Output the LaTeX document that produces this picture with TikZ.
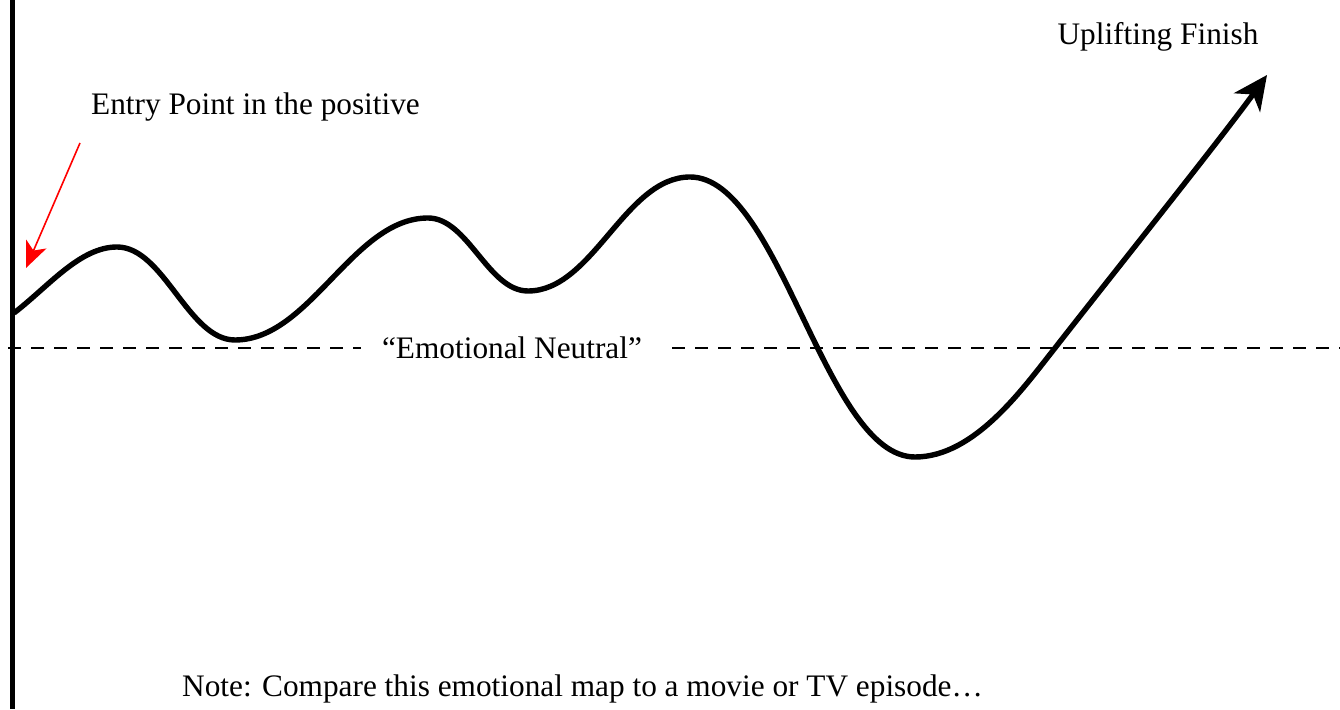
\documentclass[tikz,border=0pt]{standalone}
\usepackage{fontspec}
\setmainfont{Liberation Serif}
\usetikzlibrary{arrows.meta}
\begin{document}
\begin{tikzpicture}[x=1pt,y=1pt,
  lbl/.style={font=\fontsize{31.3}{36}\selectfont, inner sep=0pt},
  curve/.style={line width=5.4pt},
  axis/.style={line width=5pt},
  neutral/.style={line width=1.6pt, dash pattern=on 13pt off 10pt}]
\useasboundingbox (0,0) rectangle (1340,709);
\coordinate (atop) at (12,709);
\coordinate (abot) at (12,0);
\draw[axis] (atop) -- (abot);
\coordinate (nl) at (8,361);
\coordinate (gl) at (361,361);
\coordinate (gr) at (672,361);
\coordinate (nr) at (1340,361);
\draw[neutral] (nl) -- (gl);
\draw[neutral] (gr) -- (nr);
\node[lbl] (neu) at (512,361) {``Emotional Neutral''};
\coordinate (s) at (14,396);
\coordinate (p1) at (117,462);
\coordinate (t1) at (235,369);
\coordinate (p2) at (428,491);
\coordinate (t2) at (528,418);
\coordinate (p3) at (690,532);
\coordinate (t3) at (915,252);
\coordinate (c2) at (1055,361);
\coordinate (e) at (1267,634);
\draw[curve, -{Stealth[length=34pt,width=32pt,inset=10pt]}]
  (s) .. controls (49,423) and (80,462) .. (p1)
  .. controls (164,462) and (188,369) .. (t1)
  .. controls (310,369) and (353,491) .. (p2)
  .. controls (468,491) and (488,418) .. (t2)
  .. controls (593,418) and (625,532) .. (p3)
  .. controls (780,532) and (825,252) .. (t3)
  .. controls (975,252) and (1024,322) .. (c2)
  .. controls (1104,424) and (1220,569) .. (e);
\node[lbl, anchor=west] (entry) at (91,602) {Entry Point in the positive};
\coordinate (rs) at (80,566);
\coordinate (re) at (26,441);
\draw[red, line width=1.6pt, -{Stealth[length=26pt,width=22pt,inset=7pt]}] (rs) -- (re);
\node[lbl] (up) at (1158,672) {Uplifting Finish};
\node[lbl, anchor=west] (note) at (182,20) {Note: Compare this emotional map to a movie or TV episode…};
\end{tikzpicture}
\end{document}
